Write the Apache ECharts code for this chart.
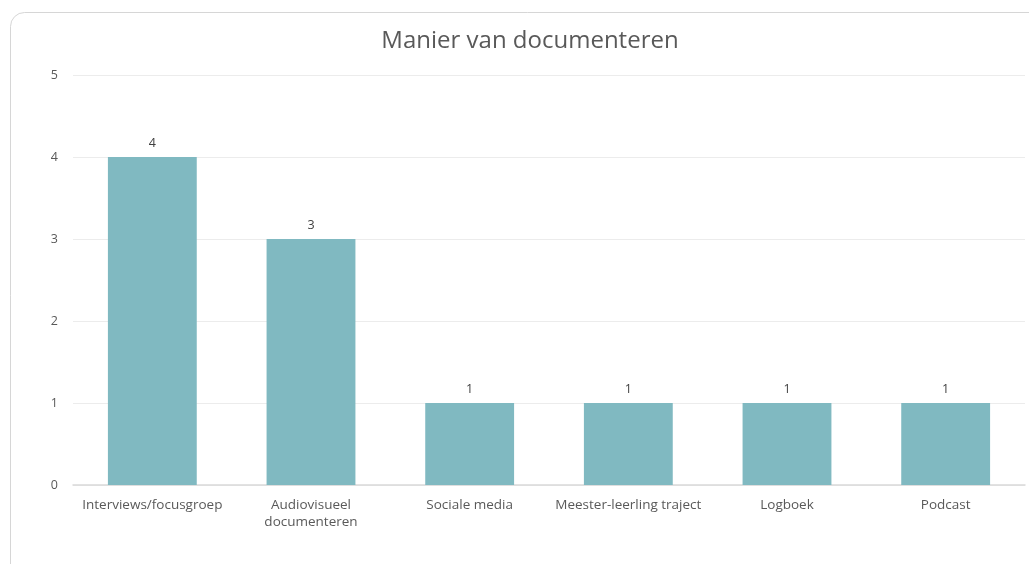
<html lang="nl">
<head>
<meta charset="UTF-8" />
<script src="https://cdn.jsdelivr.net/npm/echarts@6/dist/echarts.min.js"></script>
<style>
* { padding: 0; margin: 0; }
body { background: #fff; }
</style>
</head>
<body>
<div id="main" style="width:1029px;height:564px"></div>
<script>
var categories = ["Interviews/focusgroep", "Audiovisueel\ndocumenteren", "Sociale media", "Meester-leerling traject", "Logboek", "Podcast"]
var values = [4, 3, 1, 1, 1, 1]
var yTicks = [0, 1, 2, 3, 4, 5]

var font = "'Open Sans', Lato, sans-serif"
var myChart = echarts.init(document.getElementById("main"))
myChart.setOption({
	backgroundColor: "#fff",
	animation: false,
	graphic: [{
		type: "rect",
		left: 10,
		top: 12,
		shape: { width: 1060, height: 600, r: 14 },
		style: { fill: "#fff", stroke: "#d6d6d6", lineWidth: 1 },
		z: -10
	}],
	title: {
		text: "Manier van documenteren",
		left: 525,
		textAlign: "center",
		top: 24,
		textStyle: { fontFamily: font, fontSize: 24, fontWeight: "normal", color: "#595959" }
	},
	grid: { left: 73, right: 4, top: 75, bottom: 79, containLabel: false },
	xAxis: {
		type: "category",
		data: categories,
		axisLine: { lineStyle: { color: "#d9d9d9", width: 1.5 } },
		axisTick: { show: false },
		axisLabel: { fontFamily: font, fontSize: 13.5, color: "#595959", margin: 12, lineHeight: 17, interval: 0 }
	},
	yAxis: {
		type: "value",
		min: yTicks[0],
		max: yTicks[yTicks.length - 1],
		interval: 1,
		axisLine: { show: false },
		axisTick: { show: false },
		splitLine: { lineStyle: { color: "#ececec" } },
		axisLabel: { fontFamily: font, fontSize: 12.5, color: "#595959", margin: 15 }
	},
	series: [{
		type: "bar",
		data: values,
		barCategoryGap: "44%",
		itemStyle: { color: "#80b9c1" },
		label: { show: true, position: "top", distance: 7, fontFamily: font, fontSize: 12.5, color: "#404040" }
	}]
})
</script>
</body>
</html>
